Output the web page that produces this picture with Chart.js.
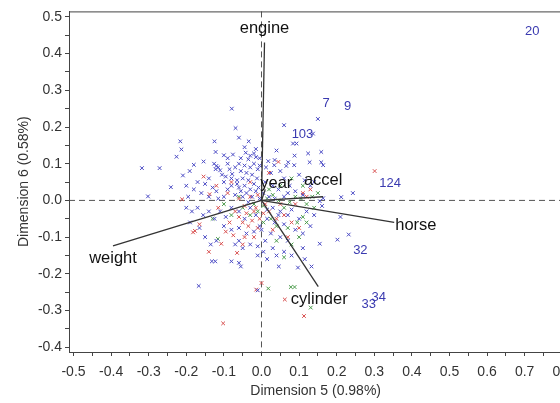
<!DOCTYPE html>
<html>
<head>
<meta charset="utf-8">
<script src="https://cdn.jsdelivr.net/npm/chart.js@4.4.1/dist/chart.umd.min.js"></script>
<style>
  html, body { margin: 0; padding: 0; background: #fff; overflow: hidden; }
</style>
</head>
<body>
<canvas id="biplot" width="580" height="403"></canvas>
<script>
const xTickLabels = ['-0.5', '-0.4', '-0.3', '-0.2', '-0.1', '0.0', '0.1', '0.2', '0.3', '0.4', '0.5', '0.6', '0.7', '0.8'];
const yTickLabels = ['-0.4', '-0.3', '-0.2', '-0.1', '0.0', '0.1', '0.2', '0.3', '0.4', '0.5'];

// observations, coloured by group
const bluePoints = [
  [-0.079, 0.250], [-0.069, 0.197], [-0.060, 0.171], [-0.216, 0.161], [-0.213, 0.139], [-0.125, 0.161],
  [-0.034, 0.161], [-0.226, 0.119], [-0.122, 0.132], [-0.100, 0.123], [-0.076, 0.125], [-0.042, 0.130],
  [-0.030, 0.122], [-0.020, 0.128], [-0.015, 0.118], [-0.035, 0.112], [-0.318, 0.088], [-0.271, 0.088],
  [-0.180, 0.097], [-0.154, 0.106], [-0.126, 0.100], [-0.120, 0.094], [-0.115, 0.090], [-0.122, 0.085],
  [-0.110, 0.082], [-0.191, 0.080], [-0.209, 0.068], [-0.241, 0.036], [-0.302, 0.011], [-0.090, 0.100],
  [-0.085, 0.085], [-0.078, 0.072], [-0.070, 0.090], [-0.060, 0.100], [-0.055, 0.080], [-0.045, 0.095],
  [-0.040, 0.075], [-0.030, 0.090], [-0.025, 0.070], [-0.020, 0.100], [-0.010, 0.085], [-0.005, 0.095],
  [-0.012, 0.060], [-0.035, 0.055], [-0.050, 0.060], [-0.065, 0.055], [-0.095, 0.065], [-0.100, 0.050],
  [-0.105, 0.070], [-0.140, 0.060], [-0.150, 0.045], [-0.160, 0.020], [-0.130, 0.035], [-0.120, 0.025],
  [-0.090, 0.030], [-0.080, 0.040], [-0.060, 0.035], [-0.045, 0.040], [-0.030, 0.030], [-0.020, 0.045],
  [-0.008, 0.035], [-0.070, 0.015], [-0.100, 0.010], [-0.115, 0.005], [-0.050, 0.010], [-0.025, 0.010],
  [-0.180, 0.030], [-0.170, 0.050], [-0.200, 0.040], [-0.195, 0.010], [-0.140, 0.010], [-0.080, 0.060],
  [-0.090, 0.115], [-0.055, 0.115], [-0.005, 0.115], [-0.015, 0.140], [-0.045, 0.145],
  [-0.040, 0.020], [-0.015, 0.025], [-0.005, 0.005], [-0.035, -0.005], [-0.055, 0.025], [-0.065, 0.045],
  [0.150, 0.222], [0.060, 0.205], [0.137, 0.182], [0.084, 0.155], [0.093, 0.155], [0.040, 0.136],
  [0.088, 0.122], [0.124, 0.128], [0.159, 0.132], [0.018, 0.107], [0.035, 0.110], [0.034, 0.096],
  [0.066, 0.094], [0.071, 0.104], [0.087, 0.096], [0.128, 0.104], [0.159, 0.104], [0.164, 0.096],
  [0.012, 0.090], [0.025, 0.075], [0.050, 0.080], [0.060, 0.060], [0.100, 0.070], [0.115, 0.055],
  [0.130, 0.040], [0.140, 0.050], [0.010, 0.050], [0.030, 0.040], [0.045, 0.030], [0.075, 0.040],
  [0.090, 0.025], [0.243, 0.020], [0.212, 0.009], [0.164, 0.006], [0.155, -0.002], [0.161, -0.015],
  [0.005, 0.020], [0.020, 0.010], [0.060, 0.010], [0.110, 0.015], [0.035, 0.005], [0.070, 0.020],
  [0.210, -0.045], [0.202, -0.107], [0.232, -0.093], [0.155, -0.118], [0.133, -0.180], [0.097, -0.183],
  [0.046, -0.180], [0.030, -0.020], [0.050, -0.030], [0.070, -0.040], [0.080, -0.025], [0.100, -0.050],
  [0.120, -0.030], [0.140, -0.040], [0.015, -0.050], [0.035, -0.060], [0.060, -0.065], [0.090, -0.080],
  [0.110, -0.090], [0.130, -0.070], [0.025, -0.090], [0.050, -0.100], [0.070, -0.110], [0.010, -0.110],
  [0.030, -0.130], [0.060, -0.140], [0.080, -0.150], [0.015, -0.160], [0.040, -0.150], [0.110, -0.130],
  [0.115, -0.160], [0.000, -0.080], [0.005, -0.140], [0.015, -0.025], [0.045, -0.040],
  [-0.200, -0.020], [-0.185, -0.030], [-0.170, -0.020], [-0.155, -0.040], [-0.140, -0.030], [-0.125, -0.050],
  [-0.110, -0.030], [-0.095, -0.045], [-0.080, -0.020], [-0.060, -0.030], [-0.045, -0.050], [-0.030, -0.020],
  [-0.015, -0.040], [-0.100, -0.070], [-0.080, -0.080], [-0.060, -0.075], [-0.040, -0.090], [-0.020, -0.085],
  [-0.005, -0.070], [-0.150, -0.100], [-0.135, -0.120], [-0.120, -0.110], [-0.070, -0.120], [-0.050, -0.130],
  [-0.030, -0.120], [-0.010, -0.125], [-0.132, -0.166], [-0.123, -0.166], [-0.080, -0.166], [-0.060, -0.170],
  [-0.055, -0.180], [-0.010, -0.150], [-0.167, -0.233], [-0.010, -0.245], [-0.190, -0.060], [-0.165, -0.075],
  [-0.060, -0.110],
];
const redPoints = [
  [-0.154, 0.065], [-0.211, 0.003], [-0.182, -0.087], [-0.177, -0.083], [-0.165, -0.065], [-0.102, -0.335],
  [-0.065, -0.143], [-0.107, -0.118], [-0.138, 0.017], [-0.014, -0.243], [-0.070, -0.030], [-0.060, -0.045],
  [-0.050, -0.060], [-0.040, -0.035], [-0.035, -0.070], [-0.025, -0.055], [-0.015, -0.020], [-0.010, -0.075],
  [-0.005, -0.050], [-0.085, -0.060], [-0.095, -0.085], [-0.075, -0.095], [-0.045, -0.100], [-0.020, -0.100],
  [-0.115, -0.020], [-0.120, 0.040], [-0.090, 0.020], [-0.060, 0.005], [-0.030, 0.010], [-0.010, 0.015],
  [0.010, -0.010], [0.020, -0.030], [0.040, -0.050], [0.060, -0.040], [0.080, -0.060], [0.100, -0.075],
  [0.030, -0.080], [0.050, -0.010], [0.090, -0.010], [0.120, 0.010], [0.130, 0.030], [0.110, 0.020],
  [0.301, 0.080], [0.062, -0.270], [0.000, -0.225], [0.113, -0.315], [0.070, -0.100], [-0.030, 0.050],
  [-0.080, 0.050], [0.020, 0.075], [0.045, 0.105], [-0.140, -0.140], [-0.050, -0.120],
  [-0.020, -0.030], [-0.045, -0.015], [0.005, -0.035],
];
const greenPoints = [
  [-0.116, -0.105], [-0.130, -0.050], [-0.100, -0.010], [-0.080, -0.040], [-0.050, -0.020], [-0.030, -0.040],
  [-0.020, -0.010], [0.005, -0.015], [0.015, 0.005], [0.030, 0.015], [0.045, 0.000], [0.060, -0.020],
  [0.075, -0.005], [0.090, 0.010], [0.105, 0.005], [0.120, -0.010], [0.135, 0.010], [0.150, 0.020],
  [0.025, -0.050], [0.040, -0.070], [0.070, -0.075], [0.095, -0.060], [0.120, -0.060], [0.100, -0.100],
  [0.080, -0.120], [0.040, -0.110], [0.060, -0.155], [0.088, -0.236], [0.078, -0.236], [0.131, -0.292],
  [0.018, -0.240], [0.110, -0.045], [0.140, -0.020], [0.005, -0.060], [-0.010, -0.030], [0.020, 0.030],
  [0.050, 0.040], [-0.060, 0.010], [0.080, 0.060], [0.110, 0.040],
];

// labelled observations
const obsLabels = ['20', '7', '9', '103', '124', '32', '33', '34'];
const obsX = [0.720, 0.172, 0.229, 0.109, 0.342, 0.263, 0.285, 0.312];
const obsY = [0.460, 0.263, 0.255, 0.181, 0.047, -0.135, -0.284, -0.264];

// variable vectors
const vectorNames = ['engine', 'weight', 'horse', 'cylinder', 'year', 'accel'];
const vectorX = [0.008, -0.395, 0.353, 0.151, 0.010, 0.164];
const vectorY = [0.430, -0.124, -0.060, -0.235, 0.030, 0.010];

const FONT = "'Liberation Sans', Arial, Helvetica, sans-serif";
const AXIS_COLOR = '#444';

// where each vector label sits relative to the vector end (px)
const labelPlacement = {
  engine: { dx: 0, dy: -14, align: 'center' },
  weight: { dx: 0, dy: 13, align: 'center' },
  horse: { dx: 1, dy: 3, align: 'left' },
  cylinder: { dx: 1, dy: 13, align: 'center' },
  year: { dx: 11, dy: -6, align: 'center' },
  accel: { dx: 0, dy: -16, align: 'center' },
};

const toXY = (pairs) => pairs.map(([x, y]) => ({ x, y }));

function withMinor(labels) {
  const major = labels.map(Number);
  const all = [];
  major.forEach((v, i) => {
    all.push(v);
    if (i < major.length - 1) all.push((v + major[i + 1]) / 2);
  });
  return all;
}

const xTickValues = withMinor(xTickLabels);
const yTickValues = withMinor(yTickLabels);

const vectorDatasets = vectorNames.map((name, i) => ({
  label: name,
  data: [{ x: 0, y: 0 }, { x: vectorX[i], y: vectorY[i] }],
  showLine: true,
  borderColor: '#333',
  borderWidth: 1.3,
  pointRadius: 0,
  order: 0,
}));

function markerSet(label, pairs, color) {
  return {
    label,
    data: toXY(pairs),
    pointStyle: 'crossRot',
    pointRadius: 2.6,
    borderWidth: 1,
    borderColor: color,
    backgroundColor: color,
    order: 2,
  };
}

const refLines = {
  id: 'refLines',
  beforeDatasetsDraw(chart) {
    const { ctx, chartArea, scales } = chart;
    const x0 = scales.x.getPixelForValue(0);
    const y0 = scales.y.getPixelForValue(0);
    ctx.save();
    ctx.strokeStyle = '#555';
    ctx.lineWidth = 1;
    ctx.setLineDash([6, 4]);
    ctx.beginPath();
    ctx.moveTo(x0, chartArea.top);
    ctx.lineTo(x0, chartArea.bottom);
    ctx.moveTo(chartArea.left, y0);
    ctx.lineTo(chartArea.right, y0);
    ctx.stroke();
    ctx.restore();
  },
  afterDraw(chart) {
    const { ctx, chartArea } = chart;
    ctx.save();
    ctx.strokeStyle = AXIS_COLOR;
    ctx.lineWidth = 1;
    ctx.strokeRect(chartArea.left + 0.5, chartArea.top + 0.5,
      chartArea.right - chartArea.left, chartArea.bottom - chartArea.top);
    ctx.restore();
  },
};

const textLabels = {
  id: 'textLabels',
  afterDatasetsDraw(chart) {
    const { ctx, scales } = chart;
    ctx.save();
    ctx.textBaseline = 'middle';

    ctx.fillStyle = '#3a3ab0';
    ctx.font = `13px ${FONT}`;
    ctx.textAlign = 'center';
    obsLabels.forEach((txt, i) => {
      ctx.fillText(txt, scales.x.getPixelForValue(obsX[i]), scales.y.getPixelForValue(obsY[i]));
    });

    ctx.fillStyle = '#111';
    ctx.font = `16.5px ${FONT}`;
    vectorNames.forEach((name, i) => {
      const p = labelPlacement[name];
      ctx.textAlign = p.align;
      ctx.fillText(name,
        scales.x.getPixelForValue(vectorX[i]) + p.dx,
        scales.y.getPixelForValue(vectorY[i]) + p.dy);
    });
    ctx.restore();
  },
};

const ctx = document.getElementById('biplot').getContext('2d');
new Chart(ctx, {
  type: 'scatter',
  data: {
    datasets: [
      ...vectorDatasets,
      markerSet('1', bluePoints, '#4a4ac4'),
      markerSet('2', redPoints, '#d85050'),
      markerSet('3', greenPoints, '#4a9a4a'),
    ],
  },
  options: {
    responsive: false,
    animation: false,
    layout: { padding: { top: 5, right: 16, left: 0, bottom: 0 } },
    plugins: {
      legend: { display: false },
      tooltip: { enabled: false },
    },
    scales: {
      x: {
        type: 'linear',
        min: -0.512,
        max: 0.8,
        afterBuildTicks: (axis) => { axis.ticks = xTickValues.map((value) => ({ value })); },
        afterFit: (axis) => { axis.height = 51; },
        ticks: {
          autoSkip: false,
          maxRotation: 0,
          padding: 8,
          color: '#333',
          font: { family: FONT, size: 14 },
          callback: (value) => xTickLabels.find((t) => Number(t) === value) || '',
        },
        grid: { drawOnChartArea: false, drawTicks: true, tickLength: 4, color: AXIS_COLOR },
        border: { display: true, color: AXIS_COLOR },
        title: {
          display: true,
          text: 'Dimension 5 (0.98%)',
          color: '#333',
          font: { family: FONT, size: 14 },
          padding: { top: 0, bottom: 3 },
        },
      },
      y: {
        type: 'linear',
        min: -0.413,
        max: 0.515,
        afterBuildTicks: (axis) => { axis.ticks = yTickValues.map((value) => ({ value })); },
        afterFit: (axis) => { axis.width = 69; },
        ticks: {
          autoSkip: false,
          padding: 3,
          color: '#333',
          font: { family: FONT, size: 14 },
          callback: (value) => yTickLabels.find((t) => Number(t) === value) || '',
        },
        grid: { drawOnChartArea: false, drawTicks: true, tickLength: 4, color: AXIS_COLOR },
        border: { display: true, color: AXIS_COLOR },
        title: {
          display: true,
          text: 'Dimension 6 (0.58%)',
          color: '#333',
          font: { family: FONT, size: 14 },
          padding: { top: 16, bottom: 0 },
        },
      },
    },
  },
  plugins: [refLines, textLabels],
});
</script>
</body>
</html>
